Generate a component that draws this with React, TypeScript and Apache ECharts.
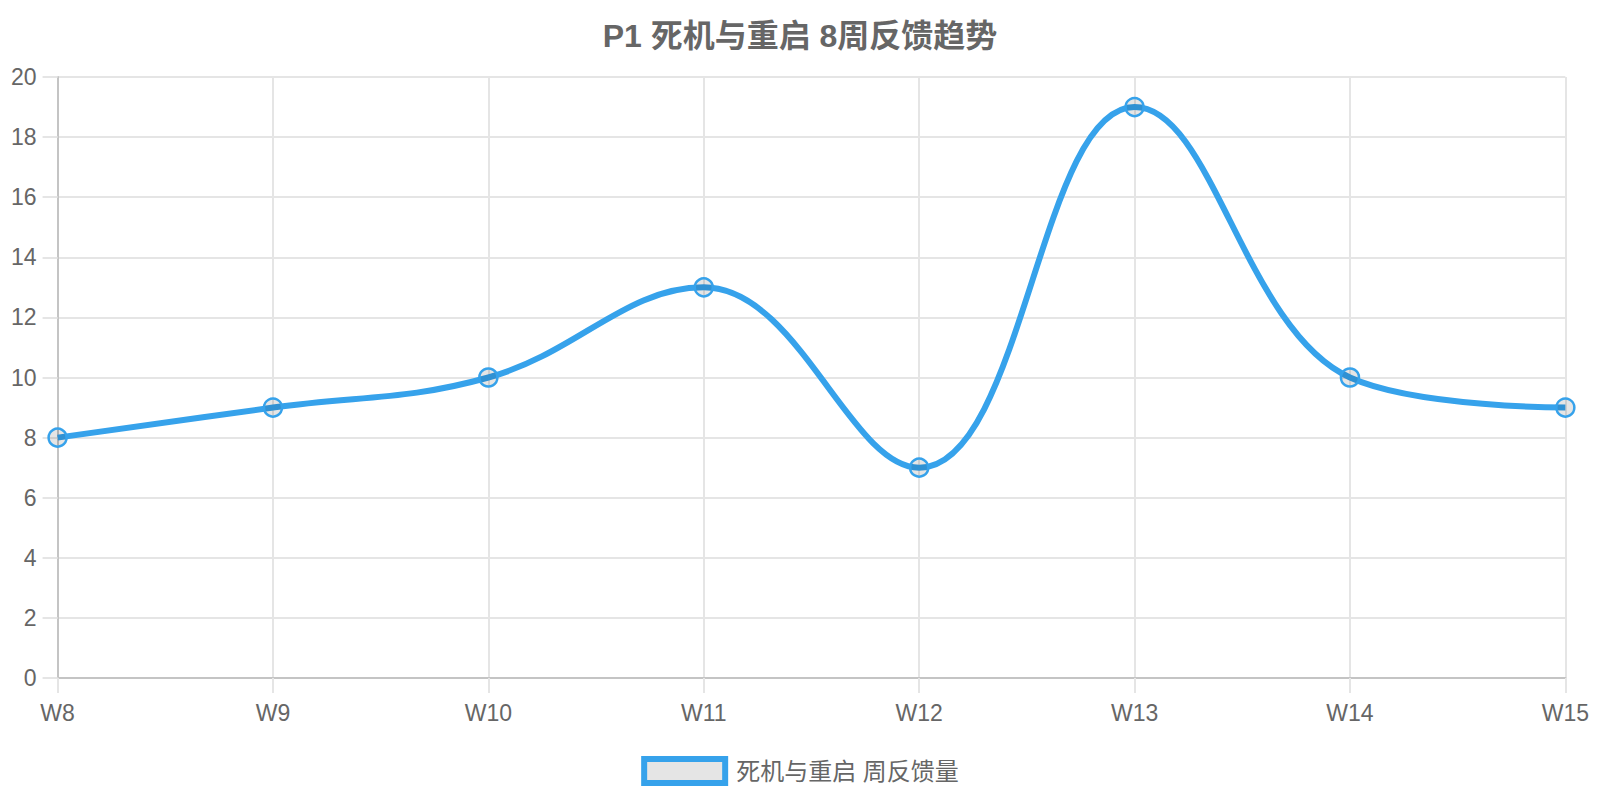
import React, { useEffect, useRef } from "react";
import * as echarts from "echarts";

const categories = ["W8", "W9", "W10", "W11", "W12", "W13", "W14", "W15"];
const values = [8, 9, 10, 13, 7, 19, 10, 9];
const seriesName = "死机与重启 周反馈量";
const titleText = "P1 死机与重启 8周反馈趋势";

const FONT = "'Liberation Sans', Arial, 'Noto Sans CJK SC', sans-serif";
const BLUE = "#36a2eb";
const TEXT = "#666666";
const GRID = "#e5e5e5";

export default function App() {
  const ref = useRef<HTMLDivElement>(null);
  useEffect(() => {
    if (!ref.current) return;
    const chart = echarts.init(ref.current, undefined, { renderer: "svg" });
    chart.setOption({
      animation: false,
      backgroundColor: "#ffffff",
      title: {
        text: titleText,
        left: "center",
        top: 12,
        padding: 0,
        textStyle: { fontFamily: FONT, fontSize: 32, fontWeight: "bold", color: TEXT, lineHeight: 32 },
      },
      legend: {
        data: [
          {
            name: seriesName,
            icon: "rect",
            itemStyle: { color: "rgba(0,0,0,0.1)", borderColor: BLUE, borderWidth: 6 },
          },
        ],
        left: "center",
        top: 748,
        padding: 0,
        itemWidth: 81,
        itemHeight: 24,
        textStyle: { fontFamily: FONT, fontSize: 24, color: TEXT, padding: [0, 0, 0, 6] },
      },
      grid: { left: 46, right: 23, top: 69, bottom: 114, containLabel: false },
      xAxis: {
        type: "category",
        data: categories,
        boundaryGap: false,
        axisLine: { show: true, lineStyle: { color: "#c4c4c4", width: 2 } },
        axisTick: { show: true, length: 15, lineStyle: { color: GRID, width: 2 } },
        axisLabel: { fontFamily: FONT, fontSize: 23, color: TEXT, margin: 23 },
        splitLine: { show: true, lineStyle: { color: GRID, width: 2 } },
      },
      yAxis: {
        type: "value",
        min: 0,
        max: 20,
        interval: 2,
        axisLine: { show: true, lineStyle: { color: "#c4c4c4", width: 2 } },
        axisTick: { show: true, length: 15, lineStyle: { color: GRID, width: 2 } },
        axisLabel: { fontFamily: FONT, fontSize: 23, color: TEXT, margin: 21 },
        splitLine: { show: true, lineStyle: { color: GRID, width: 2 } },
      },
      series: [
        {
          name: seriesName,
          type: "line",
          data: values,
          smooth: 0.4,
          symbol: "circle",
          symbolSize: 18,
          showAllSymbol: true,
          lineStyle: { color: BLUE, width: 6 },
          itemStyle: { color: "rgba(0,0,0,0.1)", borderColor: BLUE, borderWidth: 2.5 },
          z: 3,
        },
      ],
    });
    return () => chart.dispose();
  }, []);
  return <div ref={ref} style={{ width: 1584, height: 784 }} />;
}
